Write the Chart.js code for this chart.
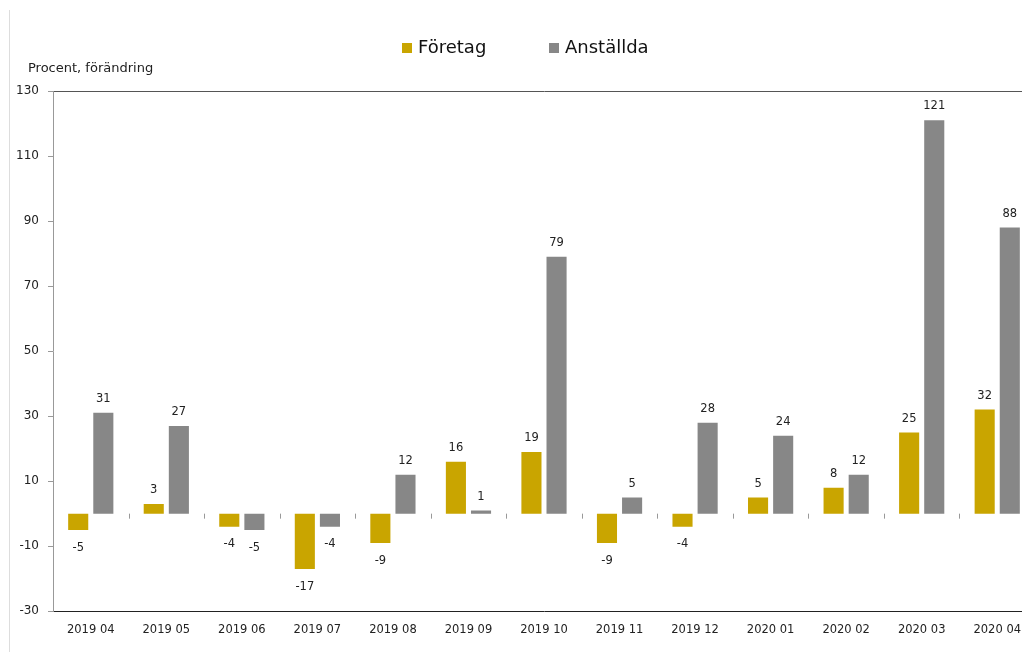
<!DOCTYPE html>
<html lang="sv">
<head>
  <meta charset="UTF-8">
  <title>Procent, förändring</title>
  <style>
    body { margin: 0; background: #fff; overflow: hidden; font-family: "DejaVu Sans", sans-serif; }
    #wrap { position: relative; width: 1022px; height: 652px; overflow: hidden; }
    #frame { position: absolute; left: 9px; top: 10px; bottom: 0; border-left: 1px solid #ddd; }
    #chartBox { position: absolute; left: 0; top: 0; width: 1035px; height: 652px; }
  </style>
</head>
<body>
  <div id="wrap">
    <div id="frame"></div>
    <div id="chartBox"><canvas id="c"></canvas></div>
  </div>

  <script src="https://cdn.jsdelivr.net/npm/chart.js"></script>
  <script>
    const months = ['2019 04', '2019 05', '2019 06', '2019 07', '2019 08', '2019 09', '2019 10',
                    '2019 11', '2019 12', '2020 01', '2020 02', '2020 03', '2020 04'];
    const foretag = [-5, 3, -4, -17, -9, 16, 19, -9, -4, 5, 8, 25, 32];
    const anstallda = [31, 27, -5, -4, 12, 1, 79, 5, 28, 24, 12, 121, 88];
    const yTicks = [-30, -10, 10, 30, 50, 70, 90, 110, 130];

    const FONT = '"DejaVu Sans", sans-serif';

    // value labels above / below each bar
    const valueLabels = {
      id: 'valueLabels',
      afterDatasetsDraw(chart) {
        const ctx = chart.ctx;
        ctx.save();
        ctx.font = '11.5px ' + FONT;
        ctx.fillStyle = '#222';
        ctx.textAlign = 'center';
        chart.data.datasets.forEach((ds, di) => {
          chart.getDatasetMeta(di).data.forEach((bar, i) => {
            const v = ds.data[i];
            if (v >= 0) {
              ctx.textBaseline = 'bottom';
              ctx.fillText(v, bar.x, bar.y - 8);
            } else {
              ctx.textBaseline = 'top';
              ctx.fillText(v, bar.x, bar.y + 12);
            }
          });
        });
        ctx.restore();
      }
    };

    // tick marks on the zero line, unit text and the legend
    const extras = {
      id: 'extras',
      afterDraw(chart) {
        const ctx = chart.ctx;
        const x = chart.scales.x, y = chart.scales.y;
        const y0 = y.getPixelForValue(0);
        ctx.save();
        ctx.strokeStyle = '#999';
        ctx.lineWidth = 1;
        ctx.beginPath();
        for (let i = 0; i < months.length - 1; i++) {
          const bx = Math.round((x.getPixelForValue(i) + x.getPixelForValue(i + 1)) / 2) + 0.5;
          ctx.moveTo(bx, y0);
          ctx.lineTo(bx, y0 + 5);
        }
        ctx.stroke();

        ctx.font = '13px ' + FONT;
        ctx.fillStyle = '#222';
        ctx.textAlign = 'left';
        ctx.textBaseline = 'middle';
        ctx.fillText('Procent, förändring', 28, 69);

        // legend
        const legendX = [402, 549];
        ctx.font = '18px ' + FONT;
        chart.data.datasets.forEach((ds, di) => {
          ctx.fillStyle = ds.backgroundColor;
          ctx.fillRect(legendX[di], 43, 10, 10);
          ctx.fillStyle = '#111';
          ctx.fillText(ds.label, legendX[di] + 16, 48);
        });
        ctx.restore();
      }
    };

    new Chart(document.getElementById('c'), {
      type: 'bar',
      data: {
        labels: months,
        datasets: [
          { label: 'Företag', data: foretag, backgroundColor: '#C9A500' },
          { label: 'Anställda', data: anstallda, backgroundColor: '#878787' }
        ]
      },
      options: {
        responsive: true,
        maintainAspectRatio: false,
        animation: false,
        categoryPercentage: 0.665,
        barPercentage: 0.8,
        layout: { padding: { top: 91, left: 0, right: 0, bottom: 3 } },
        plugins: {
          legend: { display: false },
          tooltip: { enabled: false }
        },
        scales: {
          x: {
            grid: { display: false, drawTicks: false },
            border: { display: true, color: '#222', width: 1 },
            ticks: { color: '#222', font: { family: FONT, size: 11.5 }, padding: 12, maxRotation: 0 }
          },
          y: {
            min: -30,
            max: 130,
            afterBuildTicks(scale) { scale.ticks = yTicks.map(v => ({ value: v })); },
            afterFit(scale) { scale.width = 53; },
            grid: {
              color: c => c.tick && c.tick.value === 0 ? '#999' : (c.tick && c.tick.value === 130 ? '#555' : 'rgba(0,0,0,0)'),
              tickColor: '#999',
              tickLength: 5
            },
            border: { display: true, color: '#999' },
            ticks: { color: '#222', font: { family: FONT, size: 12 }, padding: 9 }
          }
        }
      },
      plugins: [valueLabels, extras]
    });
  </script>
</body>
</html>
